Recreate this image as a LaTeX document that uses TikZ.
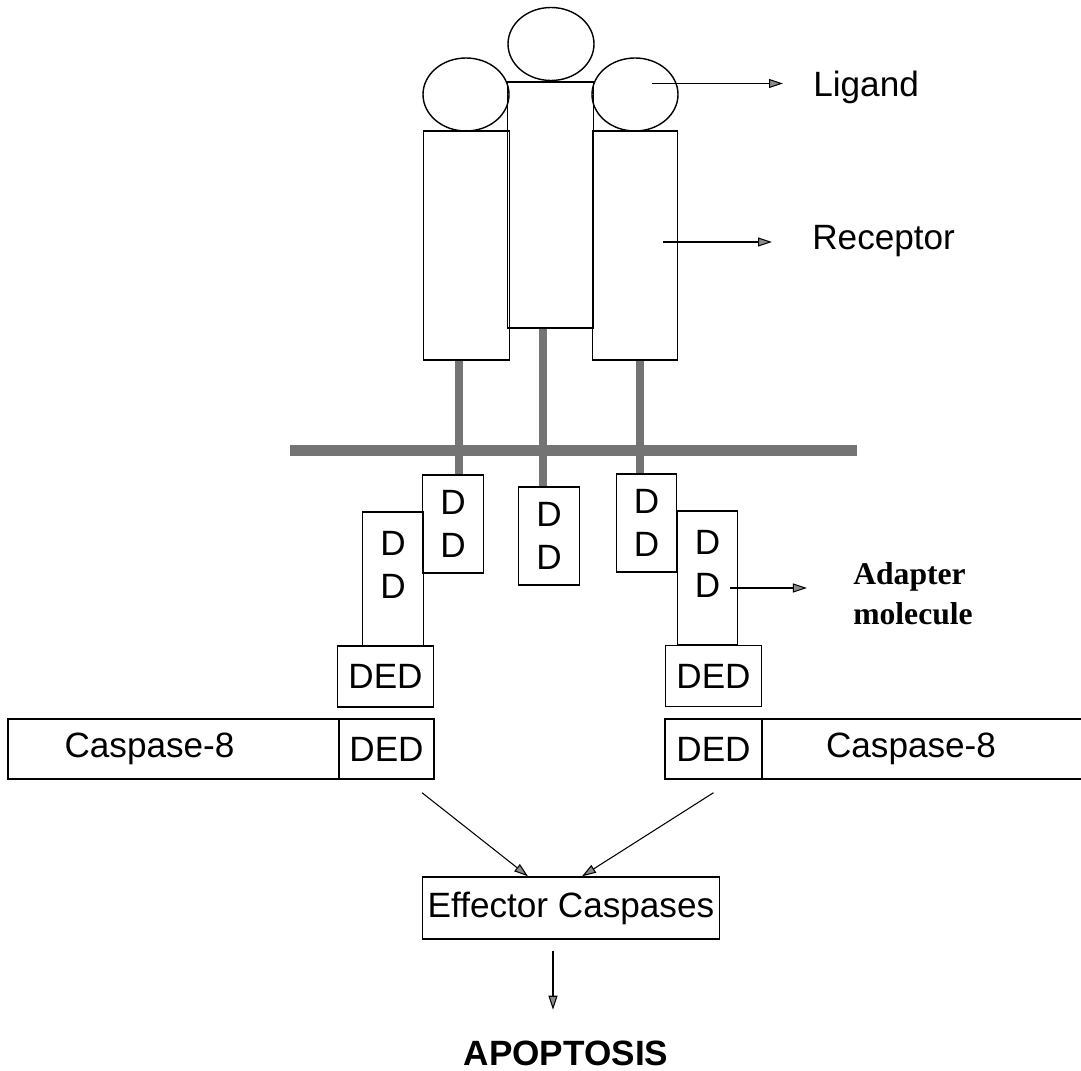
\documentclass[tikz,border=0pt]{standalone}
\usepackage{fontspec}
\setmainfont{Liberation Sans}
\newfontfamily\adapterserif{Liberation Serif}
\usetikzlibrary{arrows.meta,shapes.geometric}
\definecolor{membgray}{HTML}{747474}
\definecolor{headgray}{HTML}{8C8C8C}

\begin{document}
\begin{tikzpicture}[
    >={Triangle[length=0.28cm, width=0.18cm, fill=headgray]},
    font=\fontsize{20}{24.5}\selectfont,
    ligandball/.style={draw, ellipse, line width=0.8pt, minimum width=1.72cm,
        minimum height=1.46cm, inner sep=0pt},
    recbox/.style={draw, line width=0.8pt, minimum width=1.71cm, inner sep=0pt},
    ddbox/.style={draw, line width=0.8pt, minimum width=1.21cm, inner sep=0pt,
        align=center},
    dedbox/.style={draw, line width=0.8pt, minimum width=1.93cm,
        minimum height=1.22cm, inner sep=0pt},
    casbar/.style={draw, line width=0.8pt, minimum height=1.20cm, inner sep=0pt},
    stem/.style={draw=membgray, line width=0.16cm},
    arr/.style={->, line width=0.6pt},
    lbl/.style={inner sep=0pt},
]
\useasboundingbox (0,0) rectangle (21.62,-21.42);

% =====================================================
% Ligand trimer and receptor chains
% =====================================================
\node[ligandball] (ligC) at (11.02,-0.88) {};
\node[ligandball] (ligL) at (9.32,-1.89) {};
\node[ligandball] (ligR) at (12.70,-1.89) {};

\node[recbox, minimum height=4.92cm] (recC) at (11.01,-4.10) {};
\node[recbox, minimum height=4.58cm] (recL) at (9.33,-4.91) {};
\node[recbox, minimum height=4.58cm] (recR) at (12.70,-4.91) {};

% =====================================================
% Membrane and death domains
% =====================================================
\node[fill=membgray, minimum width=11.34cm, minimum height=0.22cm,
    inner sep=0pt] (membrane) at (11.47,-9.01) {};

\node[ddbox, minimum height=1.96cm] (ddLa) at (9.06,-10.48) {D\\D};
\node[ddbox, minimum height=2.68cm,
    label={[align=center, yshift=0.29cm]center:D\\D}] (ddLb) at (7.86,-11.58) {};
\node[ddbox, minimum height=1.96cm] (ddC) at (10.98,-10.72) {D\\D};
\node[ddbox, minimum height=1.96cm] (ddRa) at (12.93,-10.46) {D\\D};
\node[ddbox, minimum height=2.68cm,
    label={[align=center, yshift=0.29cm]center:D\\D}] (ddRb) at (14.15,-11.56) {};

\draw[stem] ([xshift=0.12cm]ddLa.north) -- ([xshift=0.12cm]ddLa.north |- recL.south);
\draw[stem] ([xshift=-0.12cm]ddC.north) -- ([xshift=-0.12cm]ddC.north |- recC.south);
\draw[stem] ([xshift=-0.13cm]ddRa.north) -- ([xshift=-0.13cm]ddRa.north |- recR.south);

\node[dedbox] (dedL) at (7.71,-13.53) {DED};
\node[dedbox] (dedR) at (14.27,-13.52) {DED};

% =====================================================
% Caspase-8 bars
% =====================================================
\node[casbar, minimum width=6.62cm,
    label={[xshift=-0.48cm]center:Caspase-8}] (casL) at (3.47,-14.98) {};
\node[casbar, minimum width=1.90cm] (cdedL) at (7.73,-14.98) {DED};
\node[casbar, minimum width=1.94cm] (cdedR) at (14.27,-14.98) {DED};
\node[casbar, minimum width=6.46cm,
    label={[xshift=-0.25cm]center:Caspase-8}] (casR) at (18.47,-14.98) {};

% =====================================================
% Effector caspases and apoptosis
% =====================================================
\node[draw, line width=0.8pt, anchor=west, minimum height=1.24cm,
    inner xsep=0.1cm, inner ysep=0pt] (eff) at (8.44,-18.16) {Effector Caspases};
\node[font=\fontsize{20}{24}\selectfont\bfseries, inner sep=0pt]
    (apop) at (11.32,-21.06) {APOPTOSIS};

\draw[arr] ([xshift=0.71cm, yshift=-0.26cm]cdedL.south) -- ([xshift=2.12cm]eff.north west);
\draw[arr] ([yshift=-0.26cm]cdedR.south) -- ([xshift=3.20cm]eff.north west);
\draw[arr] ([xshift=2.62cm, yshift=-0.22cm]eff.south west)
    -- ([xshift=2.62cm, yshift=0.61cm]eff.south west |- apop.north);

% =====================================================
% Side labels
% =====================================================
\node[lbl, anchor=west] (ligtxt) at (16.26,-1.74) {Ligand};
\node[lbl, anchor=west] (rectxt) at (16.24,-4.82) {Receptor};
\node[lbl, align=left, font=\adapterserif\fontsize{18}{23}\selectfont\bfseries]
    (adapt) at (18.26,-11.88) {Adapter\\molecule};

\coordinate (ligfrom) at ([xshift=0.34cm, yshift=0.22cm]ligR.center);
\coordinate (recfrom) at ([xshift=-0.30cm, yshift=0.07cm]recR.east);
\coordinate (adfrom) at ([xshift=-0.16cm, yshift=-0.20cm]ddRb.east);

\draw[arr] (ligfrom) -- ([xshift=-0.60cm]ligfrom -| ligtxt.west);
\draw[arr] (recfrom) -- ([xshift=-0.80cm]recfrom -| rectxt.west);
\draw[arr] (adfrom) -- ([xshift=-0.92cm]adfrom -| adapt.west);

\end{tikzpicture}
\end{document}
